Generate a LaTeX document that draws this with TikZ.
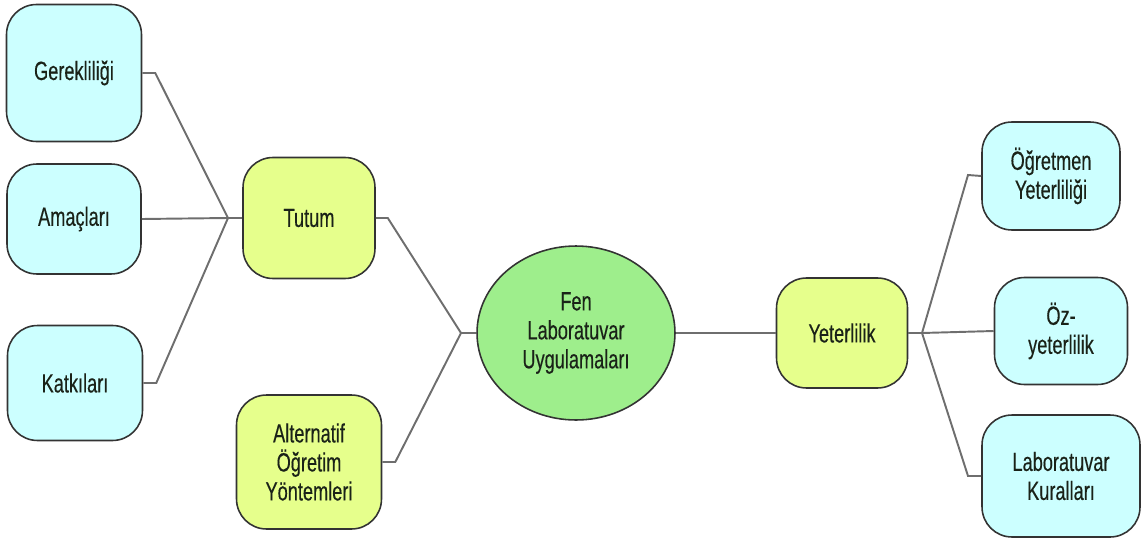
\documentclass[tikz,border=0pt]{standalone}
\usepackage{fontspec}
\setmainfont[FakeStretch=0.69,FakeBold=0.3]{Liberation Sans}
\usetikzlibrary{positioning,shapes.geometric}
\usepackage{xcolor}

\definecolor{acikmavi}{HTML}{CCFFFF}
\definecolor{aciksari}{HTML}{E6FF8C}
\definecolor{yesil}{HTML}{9EEE8C}
\definecolor{baggri}{HTML}{6E6E6E}
\definecolor{yazi}{HTML}{1A2218}

\tikzset{
  kutu/.style={draw=black!80, line width=0.9pt, rounded corners=0.6cm, align=center,
    inner sep=2pt, font=\fontsize{15}{16.5}\selectfont, text=yazi},
  mavi/.style={kutu, fill=acikmavi},
  sari/.style={kutu, fill=aciksari},
  bag/.style={draw=baggri, line width=1.1pt},
}

\begin{document}
\begin{tikzpicture}[x=0.02cm,y=-0.02cm]

\useasboundingbox (0,0) rectangle (1141,537);

% sol taraf
\node[mavi, minimum width=2.7cm, minimum height=2.74cm] (ger) at (74,73) {Gerekliliği};
\node[mavi, minimum width=2.68cm, minimum height=2.2cm] (ama) at (74,219) {Amaçları};
\node[mavi, minimum width=2.7cm, minimum height=2.3cm] (kat) at (75,383) {Katkıları};

\node[sari, minimum width=2.64cm, minimum height=2.42cm] (tutum) at (309,218) {Tutum};
\node[sari, minimum width=2.9cm, minimum height=2.68cm] (alt) at (309,462) {Alternatif\\Öğretim\\Yöntemleri};

% orta
\node[ellipse, draw=black!80, line width=0.9pt, fill=yesil, inner sep=0pt,
  minimum width=3.96cm, minimum height=3.48cm, align=center,
  font=\fontsize{15}{16.5}\selectfont, text=yazi] (fen) at (576,333)
  {Fen\\Laboratuvar\\Uygulamaları};

% sag taraf
\node[sari, minimum width=2.62cm, minimum height=2.2cm] (yet) at (842,333) {Yeterlilik};

\node[mavi, minimum width=2.76cm, minimum height=2.16cm] (ogr) at (1051,176) {Öğretmen\\Yeterliliği};
\node[mavi, minimum width=2.66cm, minimum height=2.14cm] (oz) at (1061,331) {Öz-\\yeterlilik};
\node[mavi, minimum width=3.16cm, minimum height=2.44cm] (lab) at (1061,476) {Laboratuvar\\Kuralları};

% baglanti noktalari
\coordinate (j1) at (228,218);
\coordinate (j2) at (461,333);
\coordinate (j3) at (922,333);

\draw[bag] (ger.east) -- ++(13,0) -- (j1);
\draw[bag] (ama.east) -- (j1);
\draw[bag] (kat.east) -- ++(13,0) -- (j1);
\draw[bag] (j1) -- (tutum.west);

\draw[bag] (tutum.east) -- ++(12,0) -- (j2);
\draw[bag] (alt.east) -- ++(13,0) -- (j2);
\draw[bag] (j2) -- (fen.west);

\draw[bag] (fen.east) -- (yet.west);

\draw[bag] (yet.east) -- (j3);
\draw[bag] (j3) -- (968,175) -- (ogr.west);
\draw[bag] (j3) -- (oz.west);
\draw[bag] (j3) -- (968,476) -- (lab.west);

\end{tikzpicture}
\end{document}
